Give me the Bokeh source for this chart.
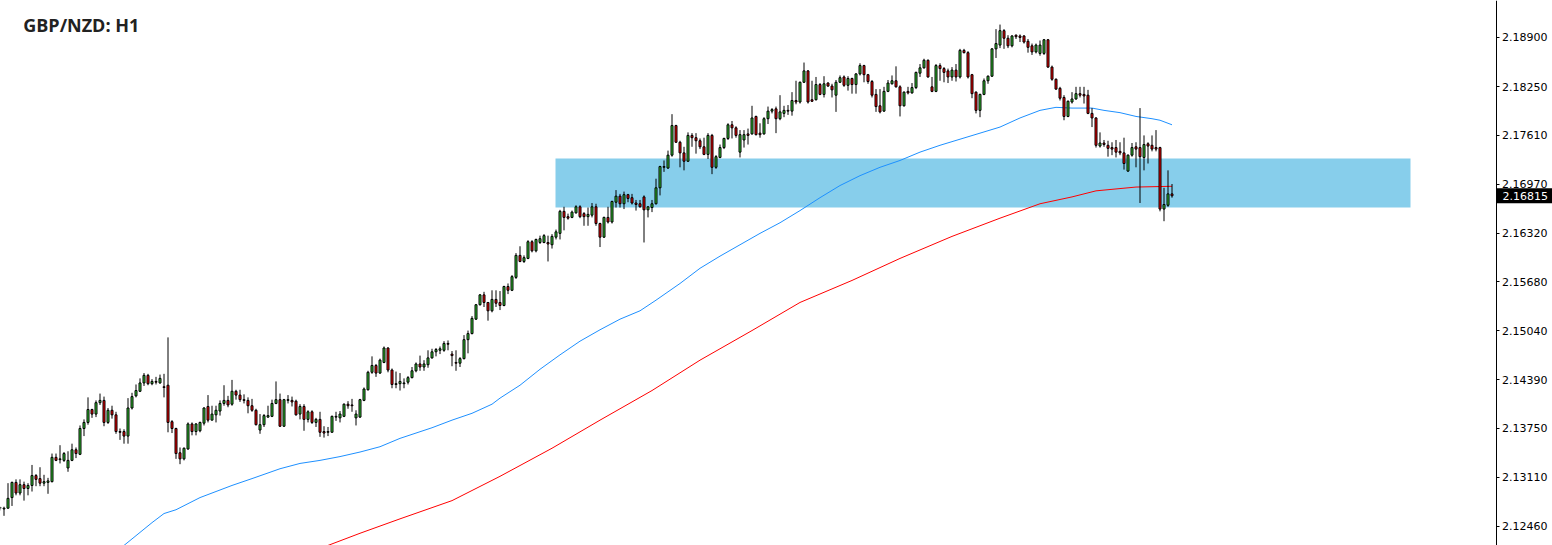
from bokeh.plotting import figure
from bokeh.models import Range1d, FixedTicker, Label, PrintfTickFormatter, ColumnDataSource
from bokeh.embed import file_html
from bokeh.resources import INLINE
from bokeh.core.properties import value

# ---------------- data ----------------
opens = [
2.1270,2.1269,2.1270,2.1284,2.1304,2.1290,2.1301,2.1296,2.1300,2.1313,
2.1309,2.1303,2.1304,2.1305,2.1337,2.1334,2.1333,2.1323,2.1333,2.1347,
2.1341,2.1375,2.1383,2.1400,2.1394,2.1409,2.1412,2.1383,2.1399,2.1393,
2.1371,2.1371,2.1365,2.1402,2.1418,2.1424,2.1435,2.1445,2.1434,2.1437,
2.1435,2.1430,2.1432,2.1384,2.1375,2.1343,2.1335,2.1348,2.1381,2.1371,
2.1372,2.1382,2.1404,2.1386,2.1393,2.1398,2.1408,2.1412,2.1407,2.1424,
2.1419,2.1413,2.1412,2.1405,2.1399,2.1373,2.1380,2.1390,2.1391,2.1408,
2.1413,2.1378,2.1412,2.1412,2.1411,2.1394,2.1404,2.1387,2.1397,2.1383,
2.1387,2.1371,2.1370,2.1370,2.1390,2.1389,2.1391,2.1407,2.1406,2.1389,
2.1390,2.1412,2.1426,2.1449,2.1458,2.1448,2.1462,2.1481,2.1452,2.1433,
2.1434,2.1434,2.1436,2.1442,2.1451,2.1460,2.1456,2.1459,2.1468,2.1476,
2.1478,2.1478,2.1487,2.1473,2.1462,2.1461,2.1467,2.1492,2.1500,2.1519,
2.1538,2.1551,2.1541,2.1530,2.1545,2.1541,2.1537,2.1562,2.1557,2.1574,
2.1603,2.1595,2.1599,2.1621,2.1609,2.1620,2.1620,2.1620,2.1617,2.1627,
2.1632,2.1661,2.1654,2.1653,2.1659,2.1667,2.1658,2.1654,2.1656,2.1667,
2.1645,2.1627,2.1653,2.1647,2.1673,2.1681,2.1671,2.1683,2.1679,2.1672,
2.1671,2.1680,2.1663,2.1666,2.1671,2.1692,2.1719,2.1718,2.1735,2.1774,
2.1752,2.1738,2.1727,2.1761,2.1758,2.1754,2.1746,2.1736,2.1761,2.1719,
2.1732,2.1745,2.1757,2.1775,2.1771,2.1739,2.1755,2.1763,2.1763,2.1786,
2.1764,2.1763,2.1783,2.1793,2.1796,2.1783,2.1790,2.1794,2.1793,2.1807,
2.1805,2.1831,2.1846,2.1808,2.1808,2.1828,2.1815,2.1830,2.1826,2.1814,
2.1831,2.1838,2.1827,2.1836,2.1828,2.1842,2.1853,2.1841,2.1832,2.1815,
2.1800,2.1793,2.1819,2.1829,2.1833,2.1825,2.1800,2.1819,2.1817,2.1824,
2.1843,2.1850,2.1860,2.1825,2.1819,2.1853,2.1849,2.1846,2.1838,2.1847,
2.1838,2.1873,2.1870,2.1841,2.1818,2.1794,2.1815,2.1833,2.1839,2.1875,
2.1880,2.1899,2.1889,2.1879,2.1893,2.1892,2.1892,2.1885,2.1879,2.1871,
2.1869,2.1869,2.1887,2.1851,2.1835,2.1823,2.1811,2.1786,2.1805,2.1809,
2.1816,2.1815,2.1814,2.1790,2.1784,2.1747,2.1751,2.1748,2.1745,2.1745,
2.1740,2.1738,2.1714,2.1735,2.1746,2.1745,2.1732,2.1750,2.1748,2.1745,
2.1745,2.1664,2.1669,2.1684]
highs = [
2.1272,2.1272,2.1303,2.1305,2.1308,2.1308,2.1305,2.1303,2.1327,2.1315,
2.1324,2.1314,2.1310,2.1342,2.1342,2.1353,2.1344,2.1345,2.1355,2.1350,
2.1379,2.1387,2.1416,2.1401,2.1412,2.1421,2.1417,2.1402,2.1405,2.1397,
2.1375,2.1374,2.1415,2.1422,2.1433,2.1441,2.1448,2.1447,2.1440,2.1443,
2.1446,2.1447,2.1495,2.1386,2.1376,2.1350,2.1350,2.1383,2.1383,2.1382,
2.1384,2.1403,2.1419,2.1405,2.1405,2.1412,2.1432,2.1418,2.1439,2.1426,
2.1426,2.1420,2.1416,2.1414,2.1401,2.1394,2.1394,2.1405,2.1413,2.1437,
2.1421,2.1414,2.1419,2.1417,2.1413,2.1407,2.1407,2.1399,2.1399,2.1389,
2.1397,2.1378,2.1377,2.1392,2.1397,2.1398,2.1408,2.1411,2.1414,2.1399,
2.1414,2.1429,2.1451,2.1470,2.1460,2.1467,2.1483,2.1482,2.1454,2.1450,
2.1448,2.1441,2.1444,2.1456,2.1462,2.1471,2.1465,2.1478,2.1480,2.1481,
2.1483,2.1490,2.1491,2.1477,2.1478,2.1469,2.1498,2.1504,2.1523,2.1539,
2.1552,2.1555,2.1541,2.1557,2.1557,2.1556,2.1563,2.1566,2.1577,2.1606,
2.1615,2.1603,2.1623,2.1623,2.1625,2.1629,2.1631,2.1629,2.1631,2.1637,
2.1663,2.1667,2.1658,2.1662,2.1669,2.1669,2.1660,2.1666,2.1672,2.1671,
2.1646,2.1654,2.1667,2.1675,2.1689,2.1684,2.1687,2.1684,2.1684,2.1676,
2.1676,2.1682,2.1668,2.1676,2.1704,2.1721,2.1728,2.1741,2.1789,2.1775,
2.1754,2.1746,2.1765,2.1764,2.1764,2.1757,2.1758,2.1764,2.1763,2.1735,
2.1749,2.1758,2.1777,2.1780,2.1773,2.1768,2.1768,2.1770,2.1800,2.1787,
2.1777,2.1785,2.1799,2.1797,2.1799,2.1814,2.1800,2.1801,2.1818,2.1833,
2.1832,2.1857,2.1847,2.1833,2.1838,2.1830,2.1839,2.1831,2.1829,2.1834,
2.1840,2.1840,2.1839,2.1837,2.1843,2.1856,2.1854,2.1842,2.1834,2.1822,
2.1822,2.1825,2.1834,2.1840,2.1852,2.1827,2.1819,2.1825,2.1830,2.1845,
2.1855,2.1862,2.1861,2.1838,2.1855,2.1856,2.1851,2.1849,2.1851,2.1855,
2.1875,2.1875,2.1872,2.1842,2.1819,2.1816,2.1836,2.1840,2.1876,2.1901,
2.1907,2.1901,2.1893,2.1893,2.1894,2.1894,2.1893,2.1888,2.1882,2.1882,
2.1886,2.1888,2.1888,2.1853,2.1836,2.1825,2.1814,2.1807,2.1818,2.1825,
2.1825,2.1825,2.1821,2.1797,2.1785,2.1765,2.1755,2.1754,2.1752,2.1755,
2.1752,2.1758,2.1736,2.1751,2.1752,2.1797,2.1761,2.1752,2.1761,2.1768,
2.1746,2.1692,2.1715,2.1697]
lows = [
2.1267,2.1260,2.1270,2.1273,2.1287,2.1287,2.1280,2.1287,2.1292,2.1299,
2.1299,2.1299,2.1289,2.1304,2.1332,2.1329,2.1331,2.1318,2.1332,2.1336,
2.1340,2.1365,2.1380,2.1389,2.1390,2.1406,2.1378,2.1381,2.1388,2.1368,
2.1360,2.1355,2.1355,2.1400,2.1416,2.1423,2.1431,2.1432,2.1432,2.1433,
2.1434,2.1416,2.1370,2.1369,2.1335,2.1328,2.1333,2.1347,2.1366,2.1366,
2.1370,2.1379,2.1383,2.1386,2.1383,2.1392,2.1405,2.1403,2.1405,2.1413,
2.1410,2.1408,2.1395,2.1397,2.1379,2.1368,2.1377,2.1389,2.1390,2.1407,
2.1377,2.1377,2.1408,2.1404,2.1392,2.1387,2.1372,2.1383,2.1381,2.1377,
2.1364,2.1363,2.1365,2.1370,2.1385,2.1383,2.1390,2.1401,2.1397,2.1379,
2.1389,2.1411,2.1425,2.1447,2.1443,2.1447,2.1461,2.1449,2.1428,2.1428,
2.1425,2.1428,2.1433,2.1441,2.1449,2.1451,2.1451,2.1455,2.1467,2.1470,
2.1473,2.1476,2.1478,2.1457,2.1451,2.1456,2.1466,2.1474,2.1499,2.1518,
2.1537,2.1535,2.1517,2.1528,2.1535,2.1531,2.1536,2.1552,2.1556,2.1572,
2.1594,2.1593,2.1598,2.1607,2.1607,2.1618,2.1619,2.1595,2.1612,2.1624,
2.1624,2.1636,2.1650,2.1652,2.1658,2.1652,2.1642,2.1642,2.1653,2.1642,
2.1614,2.1626,2.1645,2.1645,2.1666,2.1666,2.1664,2.1673,2.1670,2.1662,
2.1666,2.1620,2.1653,2.1660,2.1670,2.1682,2.1713,2.1717,2.1733,2.1751,
2.1719,2.1715,2.1726,2.1746,2.1737,2.1743,2.1735,2.1730,2.1710,2.1717,
2.1731,2.1743,2.1755,2.1757,2.1758,2.1732,2.1745,2.1749,2.1762,2.1761,
2.1758,2.1762,2.1776,2.1790,2.1764,2.1781,2.1785,2.1788,2.1787,2.1802,
2.1803,2.1830,2.1803,2.1805,2.1807,2.1814,2.1811,2.1825,2.1811,2.1792,
2.1830,2.1825,2.1820,2.1816,2.1816,2.1840,2.1831,2.1829,2.1811,2.1792,
2.1790,2.1792,2.1818,2.1828,2.1824,2.1786,2.1799,2.1815,2.1816,2.1822,
2.1838,2.1849,2.1837,2.1818,2.1818,2.1833,2.1831,2.1830,2.1833,2.1832,
2.1836,2.1869,2.1836,2.1810,2.1790,2.1785,2.1814,2.1829,2.1838,2.1863,
2.1876,2.1875,2.1876,2.1877,2.1888,2.1884,2.1882,2.1870,2.1867,2.1869,
2.1866,2.1867,2.1850,2.1833,2.1821,2.1807,2.1781,2.1785,2.1803,2.1808,
2.1811,2.1803,2.1789,2.1772,2.1745,2.1745,2.1746,2.1733,2.1735,2.1732,
2.1735,2.1716,2.1713,2.1733,2.1719,2.1672,2.1715,2.1724,2.1740,2.1740,
2.1661,2.1648,2.1667,2.1679]
closes = [
2.1271,2.1270,2.1283,2.1304,2.1290,2.1301,2.1296,2.1300,2.1313,2.1308,
2.1303,2.1305,2.1306,2.1337,2.1333,2.1335,2.1342,2.1333,2.1347,2.1342,
2.1375,2.1383,2.1400,2.1394,2.1409,2.1412,2.1383,2.1399,2.1393,2.1371,
2.1370,2.1365,2.1402,2.1417,2.1425,2.1435,2.1445,2.1434,2.1437,2.1436,
2.1441,2.1429,2.1383,2.1375,2.1342,2.1335,2.1349,2.1381,2.1371,2.1381,
2.1383,2.1402,2.1386,2.1394,2.1399,2.1408,2.1412,2.1406,2.1424,2.1419,
2.1413,2.1412,2.1405,2.1399,2.1380,2.1380,2.1392,2.1392,2.1408,2.1413,
2.1378,2.1413,2.1413,2.1410,2.1393,2.1404,2.1387,2.1397,2.1383,2.1387,
2.1370,2.1369,2.1371,2.1391,2.1391,2.1394,2.1407,2.1405,2.1405,2.1394,
2.1413,2.1427,2.1449,2.1458,2.1448,2.1465,2.1481,2.1452,2.1433,2.1434,
2.1437,2.1435,2.1442,2.1451,2.1460,2.1456,2.1460,2.1468,2.1476,2.1479,
2.1480,2.1487,2.1486,2.1471,2.1461,2.1467,2.1492,2.1500,2.1520,2.1538,
2.1551,2.1541,2.1530,2.1545,2.1540,2.1537,2.1562,2.1557,2.1575,2.1603,
2.1595,2.1600,2.1621,2.1609,2.1624,2.1625,2.1629,2.1618,2.1628,2.1634,
2.1661,2.1653,2.1652,2.1660,2.1667,2.1654,2.1654,2.1657,2.1667,2.1645,
2.1627,2.1653,2.1647,2.1674,2.1681,2.1671,2.1683,2.1678,2.1672,2.1670,
2.1667,2.1663,2.1667,2.1671,2.1692,2.1720,2.1720,2.1735,2.1774,2.1752,
2.1738,2.1727,2.1761,2.1758,2.1754,2.1746,2.1736,2.1761,2.1719,2.1733,
2.1745,2.1757,2.1775,2.1771,2.1761,2.1762,2.1762,2.1761,2.1784,2.1762,
2.1762,2.1783,2.1793,2.1795,2.1783,2.1792,2.1794,2.1793,2.1807,2.1805,
2.1831,2.1846,2.1805,2.1806,2.1828,2.1815,2.1829,2.1826,2.1821,2.1831,
2.1837,2.1827,2.1836,2.1828,2.1842,2.1853,2.1841,2.1832,2.1814,2.1799,
2.1792,2.1819,2.1830,2.1833,2.1825,2.1800,2.1818,2.1817,2.1824,2.1844,
2.1850,2.1860,2.1838,2.1819,2.1853,2.1849,2.1844,2.1838,2.1847,2.1838,
2.1873,2.1870,2.1838,2.1816,2.1794,2.1815,2.1833,2.1839,2.1875,2.1882,
2.1899,2.1889,2.1879,2.1892,2.1891,2.1890,2.1884,2.1877,2.1871,2.1880,
2.1880,2.1887,2.1851,2.1835,2.1822,2.1810,2.1786,2.1806,2.1809,2.1816,
2.1814,2.1813,2.1790,2.1784,2.1748,2.1751,2.1749,2.1744,2.1743,2.1739,
2.1738,2.1724,2.1735,2.1745,2.1743,2.1733,2.1749,2.1747,2.1743,2.1743,
2.1664,2.1670,2.1684,2.16815]

# moving averages (bar index, price)
ma_blue_idx = [31, 38, 41, 44, 50, 58, 63, 70, 75, 80, 85, 90, 95, 100, 108, 113, 118,
               123, 125, 130, 135, 140, 145, 150, 155, 160, 164, 170, 175, 180, 185,
               190, 195, 200, 205, 210, 215, 220, 225, 230, 235, 240, 245, 250, 255,
               260, 264, 268, 273, 276, 280, 284, 288, 290, 293]
ma_blue_val = [2.1221, 2.1251, 2.1263, 2.1268, 2.1284, 2.1300, 2.1309, 2.1322, 2.1329,
               2.1333, 2.1338, 2.1344, 2.1351, 2.1362, 2.1376, 2.1386, 2.1395, 2.1407,
               2.1415, 2.1432, 2.1453, 2.1472, 2.1490, 2.1505, 2.1519, 2.1530, 2.1544,
               2.1566, 2.1586, 2.1602, 2.1617, 2.1632, 2.1646, 2.1662, 2.1679, 2.1695,
               2.1708, 2.1719, 2.1728, 2.1739, 2.1748, 2.1756, 2.1764, 2.1772, 2.1784,
               2.1794, 2.1798, 2.1797, 2.1797, 2.1794, 2.1791, 2.1786, 2.1783, 2.1781,
               2.1775]
ma_red_idx = [82, 90, 100, 113, 125, 138, 150, 163, 175, 188, 200, 213, 225, 238, 250,
              260, 268, 274, 284, 293]
ma_red_val = [2.1221, 2.1237, 2.1256, 2.1280, 2.1312, 2.1349, 2.1386, 2.1425, 2.1465,
              2.1504, 2.1541, 2.1570, 2.1599, 2.1628, 2.1652, 2.1671, 2.1680, 2.1688,
              2.1693, 2.1694]

tick_values = [2.18900, 2.18250, 2.17610, 2.16970, 2.16320, 2.15680,
               2.15040, 2.14390, 2.13750, 2.13110, 2.12460]

zone_start, zone_end = 138.875, 352.625      # bar-index span of the shaded zone
zone_low, zone_high = 2.16661, 2.17306
last_price = 2.16815
chart_title = "GBP/NZD: H1"

# ---------------- layout constants ----------------
X0, X1 = 0.125, 388.125          # visible bar-index window (4 px per bar)
Y0, Y1 = 2.12209, 2.19387        # visible price window
AXIS_X = 374.0                   # price scale position (bar-index units)

# ---------------- figure ----------------
n = len(opens)
idx = list(range(n))
body_top = [max(o, c) for o, c in zip(opens, closes)]
body_bot = [min(o, c) for o, c in zip(opens, closes)]
body_col = ["#32CD32" if c >= o else "#FF0000" for o, c in zip(opens, closes)]
src = ColumnDataSource(dict(x=idx, o=opens, h=highs, l=lows, c=closes,
                            top=body_top, bot=body_bot, col=body_col))

p = figure(width=1552, height=545, output_backend="svg", toolbar_location=None,
           x_range=Range1d(X0, X1), y_range=Range1d(Y0, Y1),
           x_axis_location=None, y_axis_location="right",
           min_border=0, outline_line_color=None,
           background_fill_color="white", border_fill_color="white")
p.grid.visible = False

ax = p.yaxis[0]
ax.fixed_location = AXIS_X
ax.ticker = FixedTicker(ticks=tick_values)
ax.formatter = PrintfTickFormatter(format="%.5f")
ax.axis_line_color = "black"
ax.major_tick_line_color = "black"
ax.major_tick_out = 3
ax.major_tick_in = 0
ax.minor_tick_line_color = None
ax.major_label_text_font = "DejaVu Sans"
ax.major_label_text_font_size = "11px"
ax.major_label_text_color = "black"
ax.major_label_standoff = 3

# shaded zone
p.quad(left=[zone_start], right=[zone_end], bottom=[zone_low], top=[zone_high],
       fill_color="#87CEEB", line_color=None)

# moving averages
p.line(ma_blue_idx, ma_blue_val, line_color="#1E90FF", line_width=1)
p.line(ma_red_idx, ma_red_val, line_color="#FF0000", line_width=1)

# candles
p.segment(x0="x", y0="l", x1="x", y1="h", source=src, line_color="black", line_width=1)
p.vbar(x="x", top="top", bottom="bot", width=0.5, source=src,
       fill_color="col", line_color="black", line_width=1)

# title
p.add_layout(Label(x=5.8, y=2.19058, x_units="data", y_units="data", text=chart_title,
                   text_font="Open Sans", text_font_style="bold", text_font_size="18px",
                   text_color="#222222", text_baseline="middle", text_align="left"))

# current price tag on the price scale
p.rect(x=[AXIS_X + 7.25], y=[last_price], width=56, height=15,
       width_units="screen", height_units="screen", fill_color="black", line_color=None)
p.text(x=[AXIS_X + 1.6], y=[last_price], text=["%.5f" % last_price],
       text_font=value("DejaVu Sans"), text_font_size="11px", text_color="white",
       text_baseline="middle", text_align="left")

open("out.html", "w").write(file_html(p, INLINE))
